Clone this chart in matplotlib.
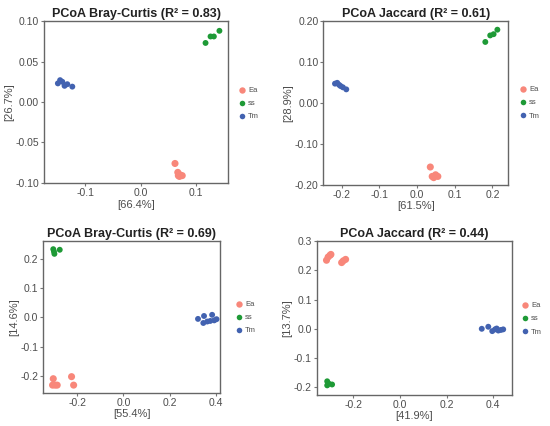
import matplotlib
matplotlib.use("Agg")
import matplotlib.pyplot as plt
from matplotlib.lines import Line2D

groups = ["Ea", "ss", "Tm"]
colors = {"Ea": "#F8877A", "ss": "#1E9A36", "Tm": "#4262B0"}
sizes = {"Ea": 26, "ss": 18, "Tm": 18}

# Panel 1: PCoA Bray-Curtis (R2 = 0.83)
p1_Ea_x = [0.062, 0.067, 0.068, 0.071, 0.075, 0.070]
p1_Ea_y = [-0.076, -0.087, -0.091, -0.090, -0.091, -0.092]
p1_ss_x = [0.117, 0.126, 0.132, 0.142]
p1_ss_y = [0.073, 0.081, 0.081, 0.088]
p1_Tm_x = [-0.149, -0.145, -0.141, -0.137, -0.132, -0.123]
p1_Tm_y = [0.023, 0.027, 0.025, 0.020, 0.022, 0.019]

# Panel 2: PCoA Jaccard (R2 = 0.61)
p2_Ea_x = [0.035, 0.040, 0.049, 0.055, 0.044]
p2_Ea_y = [-0.157, -0.180, -0.176, -0.180, -0.183]
p2_ss_x = [0.181, 0.194, 0.203, 0.213]
p2_ss_y = [0.149, 0.165, 0.168, 0.179]
p2_Tm_x = [-0.218, -0.212, -0.207, -0.203, -0.197, -0.188]
p2_Tm_y = [0.047, 0.049, 0.044, 0.041, 0.038, 0.033]

# Panel 3: PCoA Bray-Curtis (R2 = 0.69)
p3_Ea_x = [-0.303, -0.306, -0.295, -0.286, -0.224, -0.215]
p3_Ea_y = [-0.210, -0.232, -0.232, -0.232, -0.203, -0.232]
p3_ss_x = [-0.303, -0.298, -0.275, -0.300]
p3_ss_y = [0.234, 0.218, 0.232, 0.226]
p3_Tm_x = [0.322, 0.348, 0.345, 0.362, 0.375, 0.383, 0.392, 0.402]
p3_Tm_y = [-0.005, 0.005, -0.019, -0.014, -0.012, 0.009, -0.010, -0.006]

# Panel 4: PCoA Jaccard (R2 = 0.44)
p4_Ea_x = [-0.315, -0.308, -0.300, -0.296, -0.250, -0.233, -0.243]
p4_Ea_y = [0.235, 0.246, 0.252, 0.255, 0.227, 0.238, 0.233]
p4_ss_x = [-0.312, -0.312, -0.291, -0.305]
p4_ss_y = [-0.180, -0.194, -0.191, -0.188]
p4_Tm_x = [0.351, 0.379, 0.396, 0.408, 0.422, 0.433, 0.443, 0.415]
p4_Tm_y = [0.000, 0.007, -0.008, -0.002, -0.006, -0.004, -0.002, 0.001]

titles = ["PCoA Bray-Curtis (R² = 0.83)", "PCoA Jaccard (R² = 0.61)",
          "PCoA Bray-Curtis (R² = 0.69)", "PCoA Jaccard (R² = 0.44)"]
xlabels = ["[66.4%]", "[61.5%]", "[55.4%]", "[41.9%]"]
ylabels = ["[26.7%]", "[28.9%]", "[14.6%]", "[13.7%]"]
xticks = [[-0.1, 0.0, 0.1], [-0.2, -0.1, 0.0, 0.1, 0.2],
          [-0.2, 0.0, 0.2, 0.4], [-0.2, 0.0, 0.2, 0.4]]
yticks = [[-0.10, -0.05, 0.00, 0.05, 0.10], [-0.20, -0.10, 0.00, 0.10, 0.20],
          [-0.2, -0.1, 0.0, 0.1, 0.2], [-0.2, -0.1, 0.0, 0.1, 0.2, 0.3]]
xfmt = ["%.1f", "%.1f", "%.1f", "%.1f"]
yfmt = ["%.2f", "%.2f", "%.1f", "%.1f"]

data = [
    {"Ea": (p1_Ea_x, p1_Ea_y), "ss": (p1_ss_x, p1_ss_y), "Tm": (p1_Tm_x, p1_Tm_y)},
    {"Ea": (p2_Ea_x, p2_Ea_y), "ss": (p2_ss_x, p2_ss_y), "Tm": (p2_Tm_x, p2_Tm_y)},
    {"Ea": (p3_Ea_x, p3_Ea_y), "ss": (p3_ss_x, p3_ss_y), "Tm": (p3_Tm_x, p3_Tm_y)},
    {"Ea": (p4_Ea_x, p4_Ea_y), "ss": (p4_ss_x, p4_ss_y), "Tm": (p4_Tm_x, p4_Tm_y)},
]

W, H = 550, 426
# axes boxes in pixels: left, right, top, bottom
boxes = [(44, 228.3, 20.7, 183.3), (323.3, 508.3, 20.7, 185),
         (43.3, 220, 241.3, 393), (316.7, 512.3, 241.3, 394.7)]
xlims = [(-0.174, 0.158), (-0.249, 0.242), (-0.346, 0.417), (-0.357, 0.482)]
ylims = [(-0.1005, 0.1005), (-0.201, 0.201), (-0.259, 0.261), (-0.226, 0.300)]
legend_pos = [(238, 95), (519, 94), (235, 309), (521, 310)]

plt.rcParams["font.family"] = ["Liberation Sans", "DejaVu Sans"]
fig = plt.figure(figsize=(W / 100, H / 100), dpi=100)
fig.patch.set_facecolor("white")

txt = "#4d4d4d"
for i in range(4):
    l, r, t, b = boxes[i]
    ax = fig.add_axes([l / W, 1 - b / H, (r - l) / W, (b - t) / H])
    for g in groups:
        xs, ys = data[i][g]
        ax.scatter(xs, ys, s=sizes[g], color=colors[g], edgecolors="none", zorder=3)
    ax.set_xlim(*xlims[i])
    ax.set_ylim(*ylims[i])
    ax.set_xticks(xticks[i])
    ax.set_yticks(yticks[i])
    ax.set_xticklabels([xfmt[i] % v for v in xticks[i]])
    ax.set_yticklabels([yfmt[i] % v for v in yticks[i]])
    ax.tick_params(labelsize=7.5, colors="#777777", labelcolor=txt, length=2, width=0.8, pad=1.5)
    for s in ax.spines.values():
        s.set_color("#666666")
        s.set_linewidth(1.0)
    ax.set_title(titles[i], fontsize=9, fontweight="bold", color="#222222", pad=3)
    ax.set_xlabel(xlabels[i], fontsize=8, color=txt, labelpad=1)
    ax.set_ylabel(ylabels[i], fontsize=8, color=txt, labelpad=1)
    handles = [Line2D([], [], marker="o", linestyle="none", markersize=4.6 if g == "Ea" else 4.0,
                      markerfacecolor=colors[g], markeredgecolor="none", label=g) for g in groups]
    lx, ly = legend_pos[i]
    fig.legend(handles=handles, loc="upper left", bbox_to_anchor=(lx / W, 1 - (ly - 8) / H),
               frameon=False, fontsize=5.5, labelcolor=txt, handletextpad=0.3,
               labelspacing=0.75, handlelength=1.0, borderaxespad=0, borderpad=0)

fig.savefig("out.png", dpi=100, facecolor="white")
